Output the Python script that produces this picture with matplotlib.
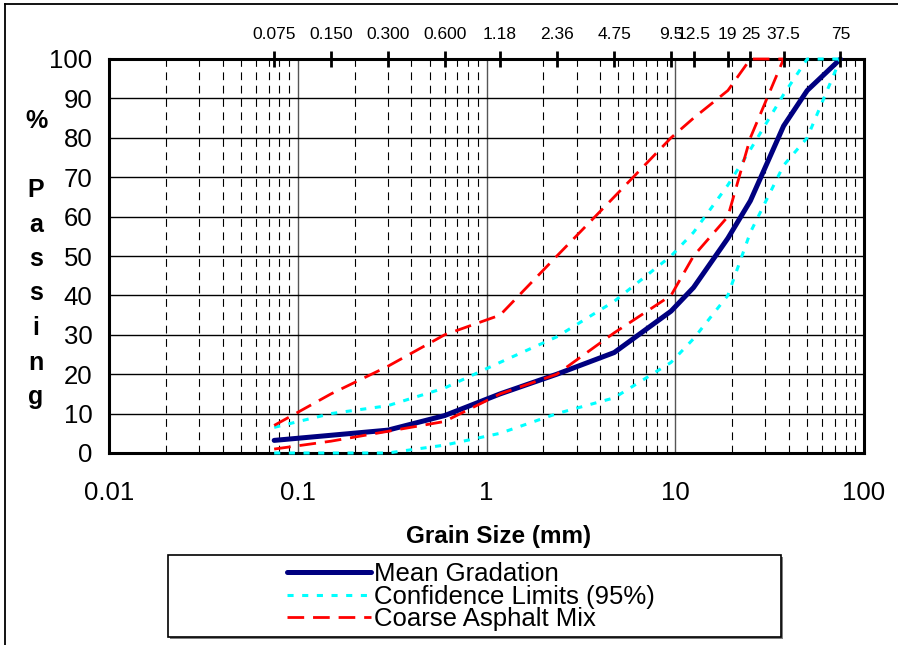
import matplotlib
matplotlib.use('Agg')
import matplotlib.pyplot as plt
from matplotlib.ticker import LogLocator, NullFormatter
from matplotlib.lines import Line2D
from matplotlib.patches import Rectangle

plt.rcParams['font.family'] = ['Liberation Sans', 'DejaVu Sans']

# sieve sizes (mm) and gradation data (% passing)
sieves = [0.075, 0.15, 0.3, 0.6, 1.18, 2.36, 4.75, 9.5, 12.5, 19, 25, 37.5, 50, 75]
mean_grad = [3.2, 4.5, 5.8, 9.5, 15, 20, 25.5, 36, 42, 54.5, 64, 83, 92, 100]
conf_upper = [6.5, 10, 12, 16.5, 23, 29.5, 38.5, 50, 56, 68, 77, 91, 100, 100]
conf_lower = [0, 0, 0, 2, 5, 10, 14, 23, 29, 40, 56, 73, 80, 100]
coarse_sieves = [0.075, 0.15, 0.3, 0.6, 1.18, 2.36, 4.75, 9.5, 12.5, 19, 25, 37.5]
coarse_upper = [7, 15, 22, 30, 35, 50, 65, 80, 85, 92, 100, 100]
coarse_lower = [1, 3, 5.5, 8, 15, 20, 30.5, 40, 50, 60, 80, 100]

top_ticks = [0.075, 0.15, 0.3, 0.6, 1.18, 2.36, 4.75, 9.5, 12.5, 19, 25, 37.5, 75]
top_labels = ['0.075', '0.150', '0.300', '0.600', '1.18', '2.36', '4.75',
              '9.5', '12.5', '19', '25', '37.5', '75']
bottom_ticks = [0.01, 0.1, 1, 10, 100]
bottom_labels = ['0.01', '0.1', '1', '10', '100']

W, H = 898, 645
fig = plt.figure(figsize=(W / 100, H / 100), dpi=100)
ax = fig.add_axes([109 / W, 1 - 453 / H, (864 - 109) / W, (453 - 59) / H])

ax.set_xscale('log')
ax.set_xlim(0.01, 100)
ax.set_ylim(0, 100)
ax.set_xticks(bottom_ticks, bottom_labels)
ax.xaxis.set_minor_locator(LogLocator(base=10, subs=range(2, 10)))
ax.xaxis.set_minor_formatter(NullFormatter())
ax.set_yticks(range(0, 101, 10))
ax.tick_params(axis='both', which='both', length=0, labelsize=18.5)
ax.tick_params(axis='x', pad=20)
ax.tick_params(axis='y', pad=12)

ax.set_axisbelow(True)
ax.grid(axis='y', which='major', color='black', lw=1)
ax.grid(axis='x', which='major', color='#555555', lw=1)
ax.grid(axis='x', which='minor', color='black', lw=0.8, linestyle=(0, (7, 5)))
for s in ax.spines.values():
    s.set_linewidth(2.2)

kw = dict(clip_on=False, zorder=3)
ax.plot(sieves, mean_grad, color='#000080', lw=3.6, solid_capstyle='round',
        label='Mean Gradation', **kw)
ax.plot(sieves, conf_upper, color='#00FFFF', lw=2.2, linestyle=(0, (2, 2.8)),
        label='Confidence Limits (95%)', **kw)
ax.plot(sieves, conf_lower, color='#00FFFF', lw=2.2, linestyle=(0, (2, 2.8)), **kw)
ax.plot(coarse_sieves, coarse_upper, color='#FF0000', lw=2, linestyle=(0, (6, 3.2)),
        label='Coarse Asphalt Mix', **kw)
ax.plot(coarse_sieves, coarse_lower, color='#FF0000', lw=2, linestyle=(0, (6, 3.2)), **kw)

# sieve sizes along the top
ax2 = ax.twiny()
ax2.set_xscale('log')
ax2.set_xlim(0.01, 100)
ax2.set_xticks(top_ticks, top_labels)
ax2.xaxis.set_minor_locator(plt.NullLocator())
ax2.tick_params(axis='x', which='major', direction='inout', length=11, width=2,
                labelsize=12.5, pad=7, zorder=5)
for s in ax2.spines.values():
    s.set_visible(False)

# y label, one letter per line
fig.text(36 / W, 1 - 128 / H, '%', ha='center', va='baseline', fontsize=18, fontweight='bold')
for i, ch in enumerate('Passing'):
    fig.text(36 / W, 1 - (197 + 34.5 * i) / H, ch, ha='center', va='baseline',
             fontsize=18, fontweight='bold')

fig.text(499 / W, 1 - 537 / H, 'Grain Size (mm)', ha='center', va='center',
         fontsize=17.5, fontweight='bold')

# legend box
fig.add_artist(Rectangle((170 / W, 1 - 639 / H), (781 - 168) / W, (637 - 555) / H,
                         transform=fig.transFigure, facecolor='#808080', edgecolor='none'))
fig.add_artist(Rectangle((168 / W, 1 - 637 / H), (781 - 168) / W, (637 - 555) / H,
                         transform=fig.transFigure, facecolor='white', edgecolor='black', lw=1.2))
fig.legend(loc='upper left', bbox_to_anchor=(287 / W, 1 - 562 / H), frameon=False,
           fontsize=18.5, borderpad=0, borderaxespad=0, handlelength=3.25,
           handletextpad=0.15, labelspacing=-0.05)

# outer border
fig.add_artist(Line2D([5 / W, 5 / W], [0, 1 - 4 / H], transform=fig.transFigure, color='black', lw=1.3))
fig.add_artist(Line2D([5 / W, 1], [1 - 4 / H, 1 - 4 / H], transform=fig.transFigure, color='black', lw=1.3))

fig.savefig('out.png', dpi=100)
